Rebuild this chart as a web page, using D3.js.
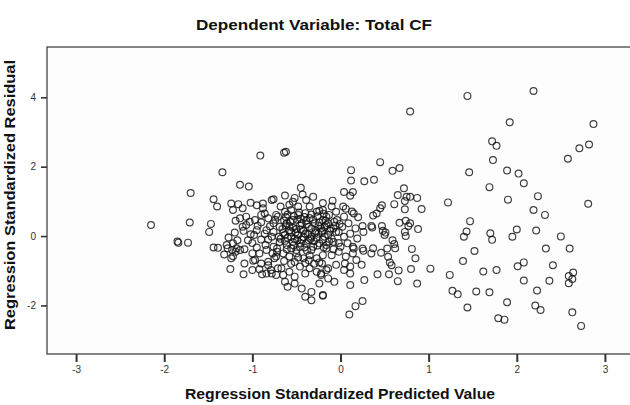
<!DOCTYPE html>
<html>
<head>
<meta charset="utf-8">
<script src="https://cdn.jsdelivr.net/npm/d3@7"></script>
<style>
  body { margin: 0; background: #fff; }
  text { font-family: "Liberation Sans", Arial, sans-serif; }
</style>
</head>
<body>
<svg id="chart" width="630" height="405"></svg>
<script>
// tick values
var xTicks = [-3, -2, -1, 0, 1, 2, 3];
var yTicks = [-2, 0, 2, 4];

// points [predicted, residual]
var leftPts = [[-2.15,0.32],[-1.70,1.24],[-1.71,0.39],[-1.85,-0.16],[-1.84,-0.19],[-1.73,-0.19],
  [-1.34,1.84],[-1.44,1.06],[-1.40,0.85],[-1.47,0.35],[-1.49,0.12],[-1.44,-0.33],[-1.39,-0.34],
  [-1.25,-0.95],[-1.14,1.48],[-1.04,1.43],[-0.91,2.32],[-0.64,2.40],[-0.62,2.43],[-0.45,1.39],
  [-1.27,-0.04],[-1.20,0.10],[-1.17,-0.12],[-1.22,-0.21],[-1.28,-0.35],[-1.23,-0.40],[-1.18,-0.35],
  [-1.14,-0.40],[-1.09,-0.38],[-1.32,-0.53],[-1.24,-0.64],[-1.22,-0.58],[-1.19,-0.45],[-1.29,-0.26],
  [-1.24,0.94],[-1.16,0.92],[-1.11,0.80],[-1.02,0.96],[-0.95,0.89],[-0.88,0.94],[-0.78,1.04],[-0.76,1.06],
  [-1.19,0.44],[-1.14,0.51],[-1.07,0.56],[-1.03,0.41],[-0.97,0.46],[-0.90,0.61],[-0.86,0.65],[-0.82,0.51],
  [-0.76,0.37],[-0.73,0.61],[-0.95,0.17],[-0.84,0.17],[-0.76,0.12],[-0.69,0.27],[-1.07,0.32],[-1.11,0.27],
  [-1.09,-0.79],[-0.99,-0.71],[-1.10,-1.10],[-1.00,-0.98],[-0.92,-0.96],[-0.89,-1.10],[-0.82,-0.74],
  [-0.78,-1.08],[-0.73,-1.12],[-0.79,-0.98],[-0.85,-0.26],[-0.77,-0.50],[-0.84,-0.40],[-0.92,-0.50],
  [-0.97,-0.69],[-0.90,-0.79],[-0.82,-0.84],[-0.75,-0.64],[-0.71,-0.93],[-0.84,-1.08],
  [-0.90,-0.10],[-1.00,-0.20],[-1.02,0.05],[-0.94,0.30],[-0.88,0.80],[-1.22,0.75],
  [-0.90,0.40],[-0.98,0.03],[-1.05,-0.12],[-0.95,-0.33],[-1.00,-0.50],[-1.10,0.15]];

var corePts = [[-0.63,1.17],[-0.52,1.10],[-0.43,1.20],[-0.31,1.13],[-0.24,0.73],[-0.16,0.56],
  [-0.71,0.56],[-0.63,0.70],[-0.56,0.75],[-0.48,0.61],[-0.40,0.66],[-0.35,0.52],[-0.27,0.70],[-0.20,0.46],
  [-0.61,0.37],[-0.54,0.46],[-0.44,0.37],[-0.36,0.27],[-0.29,0.37],[-0.22,0.22],[-0.14,0.37],
  [-0.86,0.07],[-0.78,-0.02],[-0.63,0.03],[-0.56,0.12],[-0.48,0.03],[-0.40,0.07],[-0.33,-0.02],
  [-0.25,0.07],[-0.18,-0.02],[-0.76,-0.31],[-0.69,-0.17],[-0.61,-0.26],[-0.54,-0.17],[-0.46,-0.31],
  [-0.39,-0.21],[-0.31,-0.31],[-0.24,-0.21],[-0.16,-0.36],[-0.73,-0.59],[-0.65,-0.50],[-0.58,-0.59],
  [-0.50,-0.50],[-0.42,-0.64],[-0.35,-0.55],[-0.27,-0.64],[-0.20,-0.55],[-0.67,-0.93],[-0.65,-1.12],
  [-0.58,-1.03],[-0.52,-1.17],[-0.46,-0.88],[-0.40,-1.08],[-0.35,-0.93],[-0.27,-1.03],[-0.22,-1.12],
  [-0.16,-0.98],[-0.60,-1.46],[-0.52,-1.37],[-0.44,-1.51],[-0.40,-1.75],[-0.33,-1.61],[-0.33,-1.85],
  [-0.20,-1.70],[-0.24,-1.37],[-0.63,-1.32],[-0.39,1.04],[-0.54,0.99],[-0.48,0.85],[-0.35,0.85],
  [-0.20,0.75],[-0.13,0.61],[-0.05,0.70],[0.04,0.56],[-0.16,0.32],[-0.07,0.41],[0.02,0.27],[0.09,0.37],
  [0.17,0.22],[-0.21,0.12],[-0.14,0.03],[-0.05,0.12],[0.04,-0.02],[0.11,0.07],[0.19,-0.07],
  [-0.16,-0.26],[-0.08,-0.17],[0.00,-0.31],[0.08,-0.21],[0.15,-0.36],[-0.10,-0.55],[-0.02,-0.45],
  [0.06,-0.59],[0.14,-0.50],[-0.21,-0.79],[-0.14,-0.93],[-0.05,-0.83],[0.04,-0.98],[0.11,-0.88],
  [-0.14,-1.22],[-0.07,-1.32],[-0.04,0.46],[-0.01,0.35],[-0.08,0.22],[-0.02,0.12],[0.26,0.12],
  [0.14,-0.31],[0.18,-0.69],[0.24,-0.83],[0.05,-0.79],[-0.22,-1.08],
  [-0.66,0.20],[-0.58,0.28],[-0.50,0.20],[-0.42,0.15],[-0.52,-0.08],[-0.44,-0.10],[-0.36,-0.12],
  [-0.60,-0.05],[-0.68,-0.08],[-0.28,0.15],[-0.30,-0.15],[-0.45,0.50],[-0.62,0.55],[-0.50,-0.40],
  [-0.38,-0.42],[-0.56,-0.35],[-0.72,-0.36],[-0.64,-0.72],[-0.52,-0.75],[-0.40,-0.78],[-0.30,-0.80],
  [-0.12,0.15],[-0.10,-0.08],[-0.02,-0.20],[-0.06,0.30],[-0.68,0.85],[-0.58,0.90],[-0.20,0.95],[-0.10,0.85]];

// the darkest part of the cloud
var densePts = [[-0.60,0.62],[-0.53,0.58],[-0.47,0.68],[-0.41,0.55],[-0.33,0.62],[-0.26,0.57],[-0.19,0.64],
  [-0.64,0.45],[-0.57,0.41],[-0.49,0.47],[-0.39,0.44],[-0.31,0.48],[-0.24,0.40],[-0.17,0.44],
  [-0.62,0.31],[-0.54,0.24],[-0.46,0.30],[-0.38,0.34],[-0.33,0.22],[-0.25,0.29],[-0.18,0.26],
  [-0.65,0.09],[-0.58,0.16],[-0.51,0.10],[-0.45,0.19],[-0.37,0.05],[-0.29,0.09],[-0.21,0.15],
  [-0.63,-0.14],[-0.56,-0.02],[-0.49,-0.12],[-0.42,-0.03],[-0.34,-0.08],[-0.27,-0.05],[-0.20,-0.11],
  [-0.61,-0.38],[-0.53,-0.27],[-0.45,-0.21],[-0.41,-0.33],[-0.33,-0.40],[-0.26,-0.27],[-0.19,-0.33],
  [-0.80,0.28],[-0.74,0.47],[-0.70,-0.02],[-0.82,-0.10],[-0.72,-0.45],[-0.13,-0.16],[-0.11,0.22],
  [-0.08,-0.38],[-0.48,-0.62],[-0.36,-0.70],[-0.56,-0.80],[-0.24,-0.76]];

var midPts = [[0.79,3.59],[0.45,2.13],[0.59,1.88],[0.67,1.96],[0.12,1.90],[0.12,1.60],[0.27,1.58],
  [0.38,1.62],[0.04,1.27],[0.11,1.16],[0.14,1.27],[-0.09,1.02],[0.72,1.38],[0.65,1.18],[0.75,1.13],
  [0.73,1.01],[0.87,1.10],[0.79,1.13],[0.92,0.78],[0.73,0.77],[0.61,0.92],[0.47,0.89],[0.45,0.80],
  [0.03,0.85],[0.06,0.79],[0.13,0.71],[0.15,0.65],[0.20,0.54],[0.41,0.65],[0.37,0.59],[0.67,0.38],
  [0.74,0.44],[0.77,0.29],[0.73,0.12],[0.74,0.00],[0.79,0.37],[0.88,0.20],[0.25,0.29],[0.35,0.29],
  [0.36,0.25],[0.47,0.29],[0.48,0.15],[0.51,0.10],[0.50,0.03],[0.59,-0.12],[0.61,-0.23],[0.62,-0.35],
  [0.53,-0.36],[0.37,-0.35],[0.46,-0.48],[0.35,-0.50],[0.25,-0.36],[0.26,-0.42],[0.81,-0.37],
  [0.85,-0.64],[0.54,-0.60],[0.56,-0.76],[0.58,-0.84],[0.66,-0.99],[0.80,-0.95],[0.42,-1.10],
  [0.55,-1.10],[0.65,-1.30],[0.27,-1.27],[0.87,-1.37],[0.11,-1.08],[0.11,-1.41],[0.25,-1.87],
  [0.17,-2.02],[0.10,-2.26],[-0.20,-1.72]];

var rightPts = [[1.44,4.04],[2.19,4.18],[1.92,3.28],[2.87,3.23],[1.72,2.73],[1.77,2.60],[2.71,2.53],
  [2.82,2.64],[2.58,2.23],[1.73,2.19],[1.46,1.84],[1.89,1.89],[2.02,1.80],[2.08,1.52],[1.69,1.41],
  [1.90,1.05],[2.24,1.15],[1.22,0.97],[2.81,0.93],[2.19,0.75],[2.32,0.61],[1.47,0.43],[1.43,0.13],
  [1.40,-0.02],[1.70,0.08],[1.72,-0.11],[2.00,0.19],[1.95,-0.02],[2.22,0.16],[2.50,-0.01],[1.52,-0.43],
  [2.33,-0.36],[2.60,-0.36],[1.39,-0.72],[1.02,-0.94],[1.24,-1.12],[1.62,-1.02],[1.77,-0.98],
  [2.01,-0.87],[2.08,-0.76],[2.41,-0.84],[2.08,-1.28],[2.37,-1.29],[2.59,-1.15],[2.64,-1.05],
  [2.63,-1.24],[2.59,-1.36],[1.27,-1.58],[1.33,-1.68],[1.54,-1.60],[1.69,-1.62],[2.23,-1.57],
  [1.44,-2.06],[1.89,-1.91],[2.21,-2.00],[2.27,-2.13],[2.63,-2.20],[1.79,-2.37],[1.86,-2.41],[2.73,-2.59]];

var allPts = leftPts.concat(corePts, densePts, midPts, rightPts);

var svg = d3.select("#chart");
var margin = {top: 47, right: -4, bottom: 51, left: 47};
var width = +svg.attr("width");
var height = +svg.attr("height");

var xScale = d3.scaleLinear()
  .domain([-3.33, 3.33])
  .range([margin.left, width - margin.right]);

var yScale = d3.scaleLinear()
  .domain([-3.4, 5.45])
  .range([height - margin.bottom, margin.top]);

// plot area
svg.append("rect")
  .attr("x", margin.left)
  .attr("y", margin.top)
  .attr("width", width - margin.right - margin.left)
  .attr("height", height - margin.bottom - margin.top)
  .attr("fill", "#fdfdfd")
  .attr("stroke", "#444")
  .attr("stroke-width", 1.3);

// plain hyphen for negatives, like the original
var tickFmt = d => String(d);

var xAxis = d3.axisBottom(xScale)
  .tickValues(xTicks)
  .tickFormat(tickFmt)
  .tickSize(8)
  .tickSizeOuter(0)
  .tickPadding(4);

var yAxis = d3.axisLeft(yScale)
  .tickValues(yTicks)
  .tickFormat(tickFmt)
  .tickSize(6)
  .tickSizeOuter(0)
  .tickPadding(5);

var xAxisG = svg.append("g")
  .attr("transform", `translate(0,${height - margin.bottom})`)
  .call(xAxis);
xAxisG.select(".domain").remove();
xAxisG.selectAll("line").attr("stroke", "#333").attr("stroke-width", 2);
xAxisG.selectAll("text").attr("font-size", 10).attr("fill", "#333")
  .style("font-family", "Liberation Sans, Arial, sans-serif");

var yAxisG = svg.append("g")
  .attr("transform", `translate(${margin.left},0)`)
  .call(yAxis);
yAxisG.select(".domain").remove();
yAxisG.selectAll("line").attr("stroke", "#333").attr("stroke-width", 1.6);
yAxisG.selectAll("text").attr("font-size", 10).attr("fill", "#333")
  .style("font-family", "Liberation Sans, Arial, sans-serif");

// points
svg.append("g").selectAll("circle")
  .data(allPts)
  .enter().append("circle")
  .attr("cx", d => xScale(d[0]))
  .attr("cy", d => yScale(d[1]))
  .attr("r", 3.4)
  .attr("fill", "none")
  .attr("stroke", "#111")
  .attr("stroke-opacity", 0.8)
  .attr("stroke-width", 1.2);

// titles
svg.append("text")
  .attr("x", 314)
  .attr("y", 30)
  .attr("text-anchor", "middle")
  .attr("font-size", 15)
  .attr("font-weight", "bold")
  .attr("fill", "#111")
  .attr("textLength", 236)
  .attr("lengthAdjust", "spacingAndGlyphs")
  .text("Dependent Variable: Total CF");

svg.append("text")
  .attr("x", 340)
  .attr("y", 399)
  .attr("text-anchor", "middle")
  .attr("font-size", 15)
  .attr("font-weight", "bold")
  .attr("fill", "#111")
  .attr("textLength", 310)
  .attr("lengthAdjust", "spacingAndGlyphs")
  .text("Regression Standardized Predicted Value");

svg.append("text")
  .attr("transform", "rotate(-90)")
  .attr("x", -195)
  .attr("y", 15)
  .attr("text-anchor", "middle")
  .attr("font-size", 15)
  .attr("font-weight", "bold")
  .attr("fill", "#111")
  .attr("textLength", 270)
  .attr("lengthAdjust", "spacingAndGlyphs")
  .text("Regression Standardized Residual");
</script>
</body>
</html>
